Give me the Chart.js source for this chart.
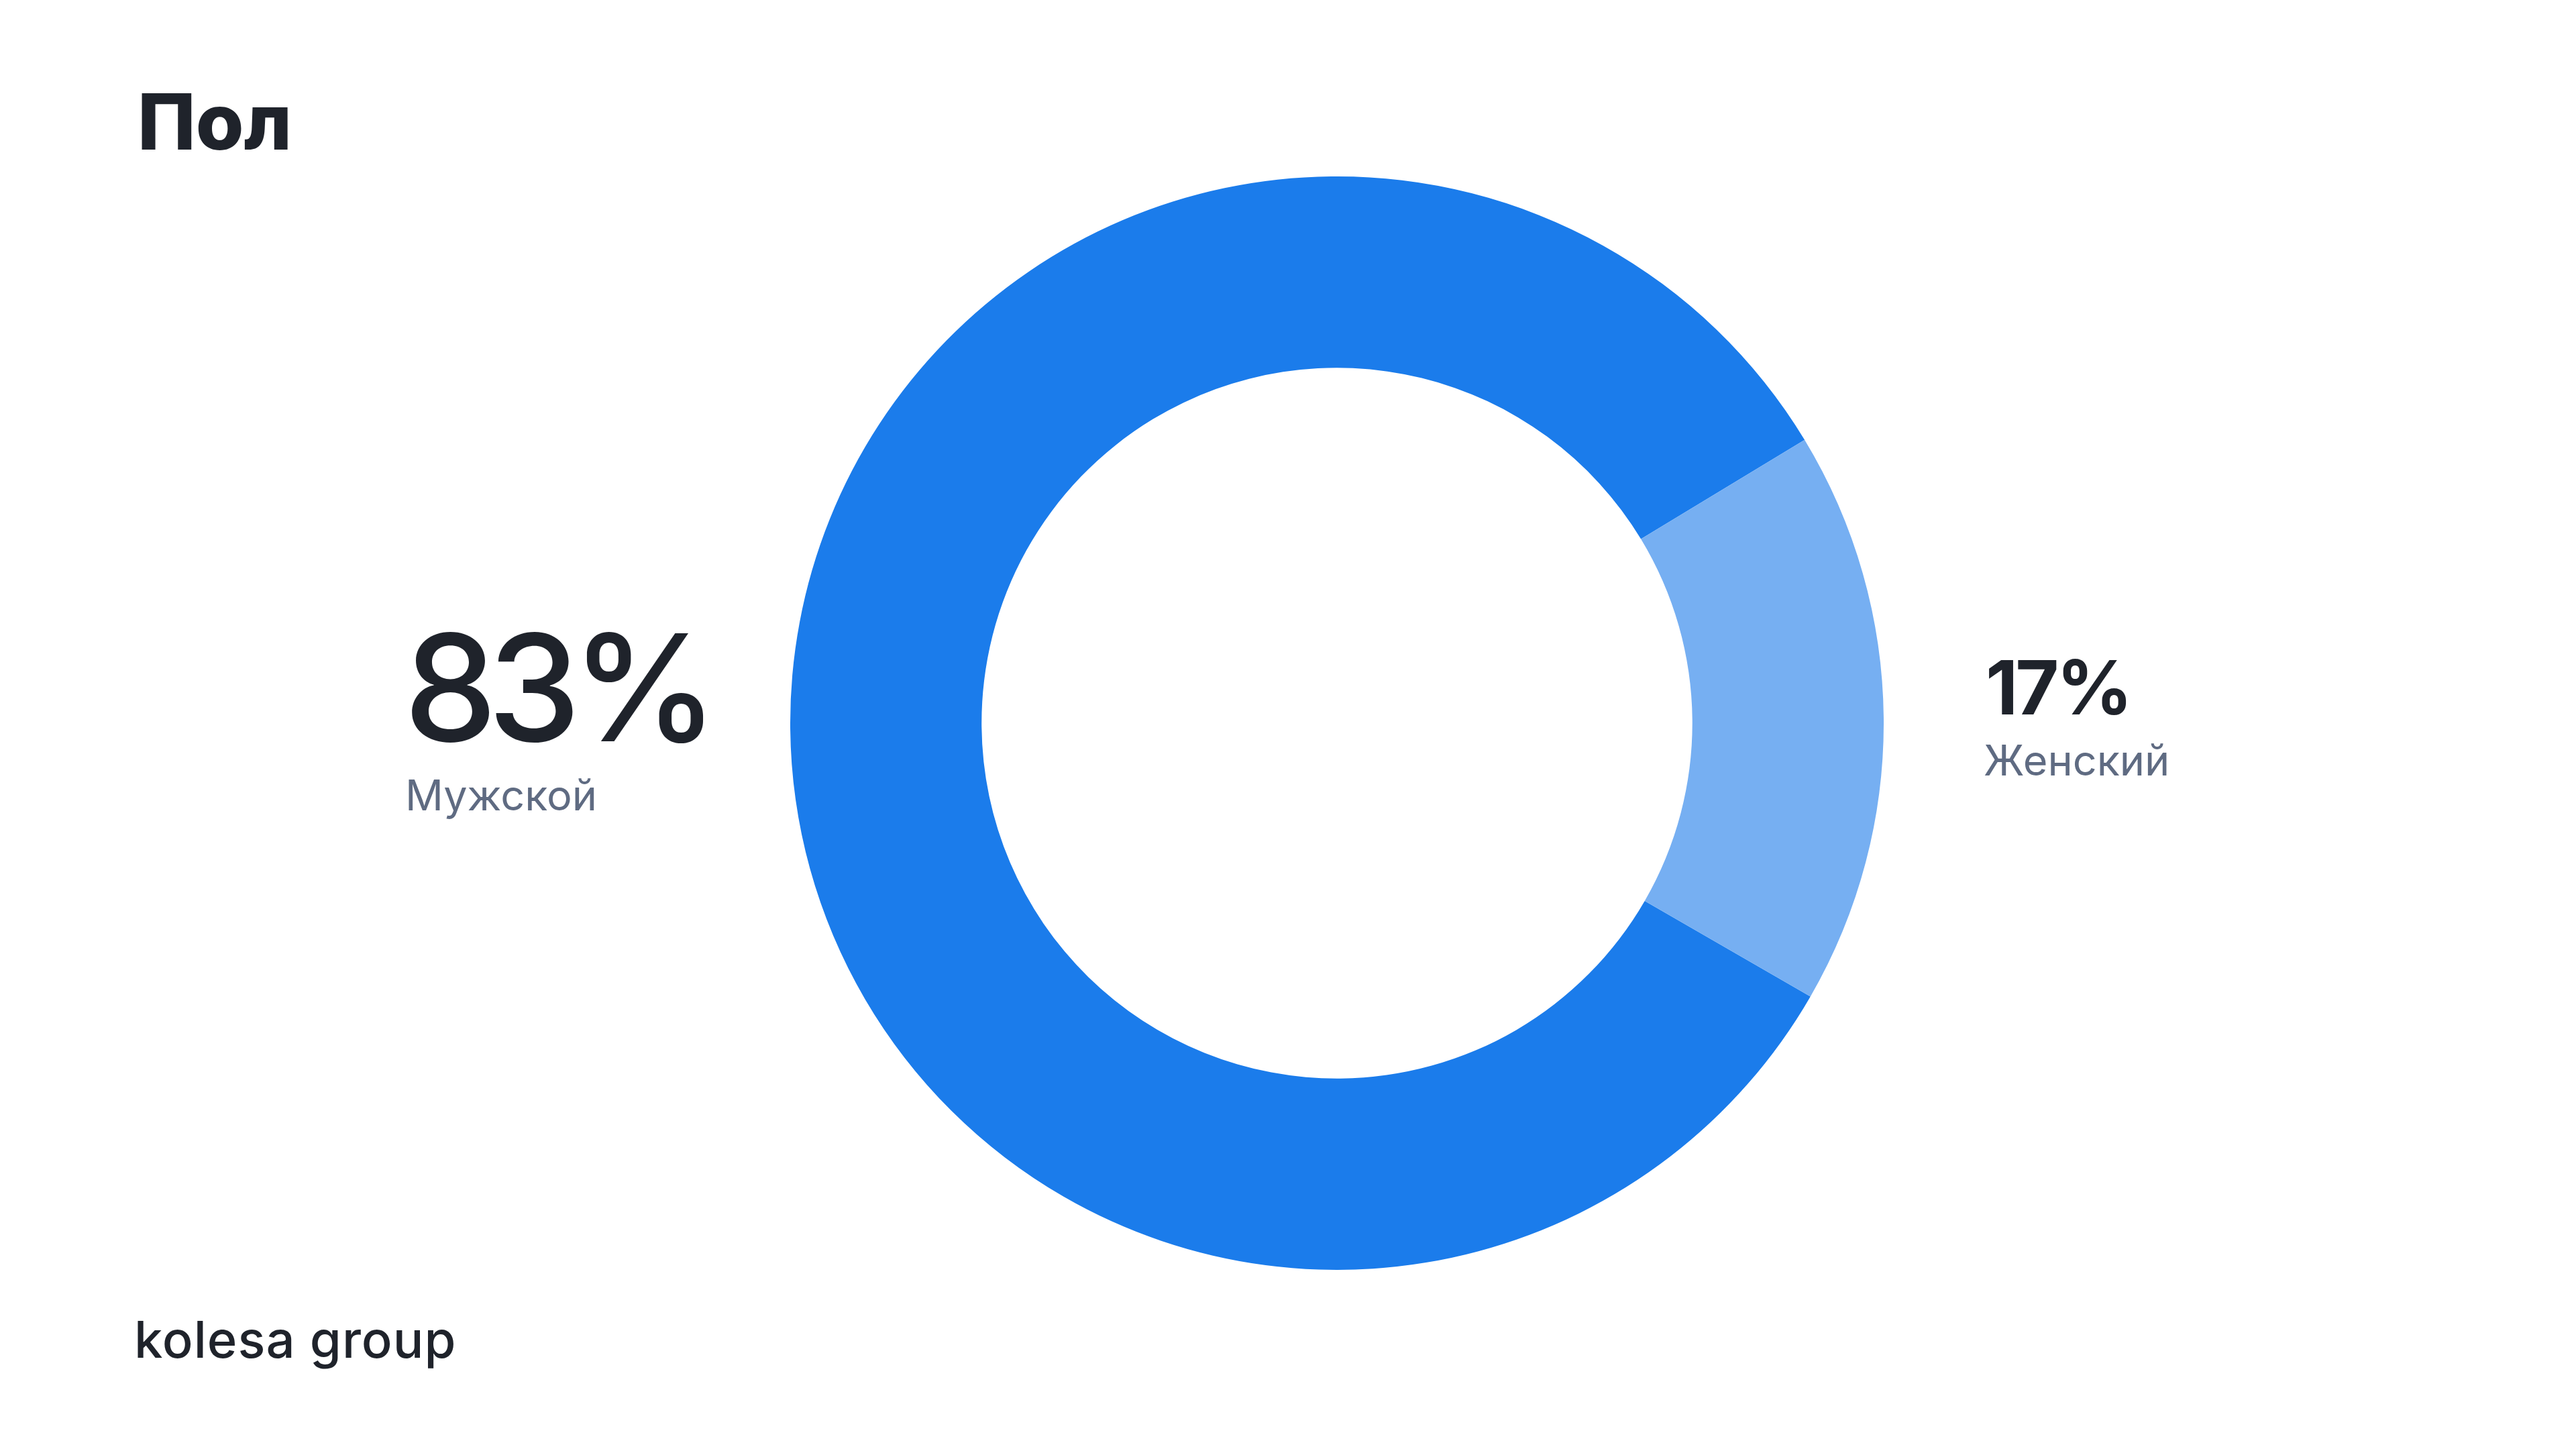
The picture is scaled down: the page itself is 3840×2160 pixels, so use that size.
<!DOCTYPE html>
<html lang="ru">
<head>
<meta charset="utf-8">
<title>Пол</title>
<script src="https://cdn.jsdelivr.net/npm/chart.js@4"></script>
<style>
    html, body {
        margin: 0;
        padding: 0;
        background: #ffffff;
    }
    #page {
        position: relative;
        width: 3840px;
        height: 2160px;
        overflow: hidden;
        font-family: Inter, "Noto Sans", sans-serif;
        color: #1f232b;
    }
    #chartBox {
        position: absolute;
        left: 1178px;
        top: 263px;
        width: 1630px;
        height: 1630px;
    }
    .txt {
        position: absolute;
        white-space: nowrap;
        line-height: 1;
    }
    #title { left: 205px; top: 123px; font-size: 116px; font-weight: 800; }
    .value { font-weight: 500; }
    .label { color: #5f6b82; font-weight: 400; font-size: 63px; }
    #logo { left: 200px; top: 1958px; font-size: 76px; font-weight: 500; letter-spacing: 1px; }
</style>
</head>
<body>
<div id="page">
    <div id="title" class="txt">Пол</div>
    <div id="chartBox"><canvas id="genderChart"></canvas></div>
    <div id="v0" class="txt value"></div>
    <div id="l0" class="txt label"></div>
    <div id="v1" class="txt value"></div>
    <div id="l1" class="txt label"></div>
    <div id="logo" class="txt">kolesa group</div>
</div>
<script>
// Données du graphique
const categories = ['Мужской', 'Женский'];
const shares = [83, 17];
const sliceColors = ['#1b7ceb', '#76aff2'];

// Étiquettes à côté de l'anneau
document.getElementById('v0').textContent = shares[0] + '%';
document.getElementById('l0').textContent = categories[0];
document.getElementById('v1').textContent = shares[1] + '%';
document.getElementById('l1').textContent = categories[1];

Object.assign(document.getElementById('v0').style, { left: '602px', top: '914px', fontSize: '221px', letterSpacing: '-14px' });
Object.assign(document.getElementById('l0').style, { left: '604px', top: '1154px' });
Object.assign(document.getElementById('v1').style, { left: '2960px', top: '968px', fontSize: '112px', fontWeight: '700', letterSpacing: '-4px' });
Object.assign(document.getElementById('l1').style, { left: '2957px', top: '1102px' });

const ctx = document.getElementById('genderChart').getContext('2d');
new Chart(ctx, {
    type: 'doughnut',
    data: {
        labels: categories,
        datasets: [{
            data: shares,
            backgroundColor: sliceColors,
            borderWidth: 0,
            hoverOffset: 0
        }]
    },
    options: {
        responsive: true,
        maintainAspectRatio: false,
        devicePixelRatio: 1,
        cutout: '65%',
        rotation: 120,
        animation: false,
        layout: { padding: 0 },
        plugins: {
            legend: { display: false },
            tooltip: { enabled: false }
        }
    }
});
</script>
</body>
</html>
